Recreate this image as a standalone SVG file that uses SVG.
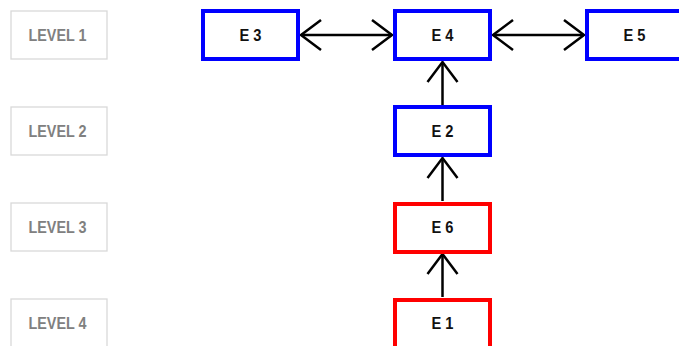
<svg xmlns="http://www.w3.org/2000/svg" width="679" height="346" viewBox="0 0 679 346">
<style>
.lvl rect{fill:#fff;stroke:#d9d9d9;stroke-width:1.3}
.lvl text{font-family:"Liberation Sans",Arial,sans-serif;font-weight:bold;font-size:16px;fill:#808080;text-anchor:middle}
.n rect{fill:#fff;stroke-width:4}
.b rect{stroke:#0000ff}
.r rect{stroke:#ff0000}
.n text{font-family:"Liberation Sans",Arial,sans-serif;font-weight:bold;font-size:16px;fill:#111;text-anchor:middle}
.c line{stroke:#000;stroke-width:2.5}
</style>
<defs>
<marker id="a" markerUnits="userSpaceOnUse" markerWidth="30" markerHeight="40" viewBox="-24 -20 30 40" refX="0" refY="0" orient="auto-start-reverse">
<path d="M-20,-15 L0,0 L-20,15" fill="none" stroke="#000" stroke-width="2.5"/>
</marker>
</defs>
<rect width="679" height="346" fill="#fff"/>
<g id="level1" class="lvl"><rect x="11" y="11" width="96" height="48"/><text x="57.5" y="40.5" textLength="58" lengthAdjust="spacingAndGlyphs">LEVEL 1</text></g>
<g id="level2" class="lvl"><rect x="11" y="107" width="96" height="48"/><text x="57.5" y="136.5" textLength="58" lengthAdjust="spacingAndGlyphs">LEVEL 2</text></g>
<g id="level3" class="lvl"><rect x="11" y="203" width="96" height="48"/><text x="57.5" y="232.5" textLength="58" lengthAdjust="spacingAndGlyphs">LEVEL 3</text></g>
<g id="level4" class="lvl"><rect x="11" y="299" width="96" height="48"/><text x="57.5" y="328.5" textLength="58" lengthAdjust="spacingAndGlyphs">LEVEL 4</text></g>
<g class="c" id="connectors">
<line x1="301" y1="35" x2="392" y2="35" marker-start="url(#a)" marker-end="url(#a)"/>
<line x1="493" y1="35" x2="584" y2="35" marker-start="url(#a)" marker-end="url(#a)"/>
<line x1="442.5" y1="105" x2="442.5" y2="62" marker-end="url(#a)"/>
<line x1="442.5" y1="201" x2="442.5" y2="158" marker-end="url(#a)"/>
<line x1="442.5" y1="297" x2="442.5" y2="254" marker-end="url(#a)"/>
</g>
<g id="E3" class="n b"><rect x="203" y="11" width="95" height="48"/><text x="250.5" y="40.5" textLength="22" lengthAdjust="spacingAndGlyphs">E 3</text></g>
<g id="E4" class="n b"><rect x="395" y="11" width="95" height="48"/><text x="442.5" y="40.5" textLength="22" lengthAdjust="spacingAndGlyphs">E 4</text></g>
<g id="E5" class="n b"><rect x="587" y="11" width="95" height="48"/><text x="634.5" y="40.5" textLength="22" lengthAdjust="spacingAndGlyphs">E 5</text></g>
<g id="E2" class="n b"><rect x="395" y="107" width="95" height="48"/><text x="442.5" y="136.5" textLength="22" lengthAdjust="spacingAndGlyphs">E 2</text></g>
<g id="E6" class="n r"><rect x="395" y="204" width="95" height="48"/><text x="442.5" y="232.5" textLength="22" lengthAdjust="spacingAndGlyphs">E 6</text></g>
<g id="E1" class="n r"><rect x="395" y="300" width="95" height="48"/><text x="442.5" y="328.5" textLength="22" lengthAdjust="spacingAndGlyphs">E 1</text></g>
</svg>
